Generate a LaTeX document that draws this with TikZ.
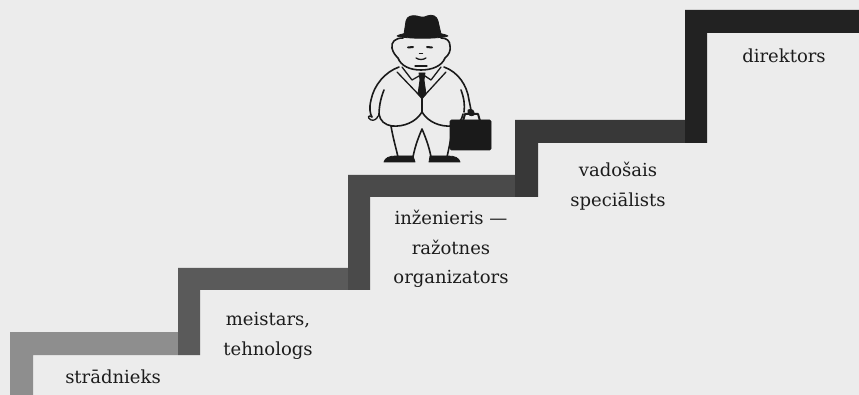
\documentclass[tikz,border=0pt]{standalone}
\usepackage{fontspec}
\setmainfont{DejaVu Serif}
\definecolor{paper}{HTML}{ECECEC}
\definecolor{ink}{HTML}{1C1C1C}
\definecolor{figink}{HTML}{1A1A1A}
\definecolor{stepA}{HTML}{8E8E8E}
\definecolor{stepB}{HTML}{5A5A5A}
\definecolor{stepC}{HTML}{4A4A4A}
\definecolor{stepD}{HTML}{383838}
\definecolor{stepE}{HTML}{222222}
\tikzset{
  label/.style={text=ink, align=center, inner sep=0pt,
    font=\fontsize{18}{29.5}\selectfont},
  stair/.style={draw=none},
  outline/.style={draw=figink, line width=1.6pt, line cap=round, line join=round},
  solid part/.style={fill=figink, draw=figink, line width=0.8pt, line join=round}
}
\begin{document}
\begin{tikzpicture}[x=1pt, y=-1pt]
  % paper
  \fill[paper] (0,0) rectangle (859,395);
  \useasboundingbox (0,0) rectangle (859,395);

  % staircase: one L-shaped piece per step, darker towards the top
  \fill[stair, stepA] (10,395) -- (10,332) -- (178,332) -- (178,355) -- (33,355) -- (33,395) -- cycle;
  \fill[stair, stepB] (178,355) -- (178,268) -- (348,268) -- (348,290) -- (200,290) -- (200,355) -- cycle;
  \fill[stair, stepC] (348,290) -- (348,175) -- (515,175) -- (515,197) -- (370,197) -- (370,290) -- cycle;
  \fill[stair, stepD] (515,197) -- (515,120) -- (685,120) -- (685,143) -- (538,143) -- (538,197) -- cycle;
  \fill[stair, stepE] (685,143) -- (685,10) -- (859,10) -- (859,33) -- (707,33) -- (707,143) -- cycle;

  % step labels
  \node[label] (worker)   at (113,377) {strādnieks};
  \node[label] (foreman)  at (268,336) {meistars,\\tehnologs};
  \node[label] (engineer) at (451,249) {inženieris —\\ražotnes\\organizators};
  \node[label] (senior)   at (618,186) {vadošais\\speciālists};
  \node[label] (director) at (784,56)  {direktors};

  % the man with the briefcase
  % hat
  \path[solid part] (404,34) -- (406,21) .. controls (407,16) and (412,15) .. (417,16)
      .. controls (420,17) and (424,18) .. (427,16) .. controls (432,14) and (437,16) .. (438,21)
      -- (441,34) -- cycle;
  \path[solid part] (397,36) .. controls (405,31) and (440,31) .. (448,36)
      .. controls (440,39) and (405,39) .. (397,36) -- cycle;
  % head
  \draw[outline] (403,38) .. controls (395,38) and (391,42) .. (392,48)
      .. controls (393,53) and (396,56) .. (398,58)
      .. controls (401,66) and (410,70) .. (421,70)
      .. controls (432,70) and (442,66) .. (445,58)
      .. controls (449,55) and (451,50) .. (450,46)
      .. controls (450,41) and (447,38) .. (441,38);
  % face
  \draw[figink, line width=2pt, line cap=round] (408,47.5) -- (413,47);
  \draw[figink, line width=2pt, line cap=round] (427,47) -- (432,47.5);
  \draw[figink, line width=1.4pt, line cap=round] (419.5,53.5) -- (422.5,53.5);
  \draw[outline, line width=1.3pt] (416,58) .. controls (419,60) and (423,60) .. (426,58);
  \draw[outline, line width=1.3pt] (415,66) -- (427,66);
  % collar and lapels
  \draw[outline, line width=1.3pt] (402,67) -- (412,80) -- (419,76);
  \draw[outline, line width=1.3pt] (441,67) -- (431,80) -- (425,76);
  \draw[outline, line width=1.3pt] (397,72) -- (420,96);
  \draw[outline, line width=1.3pt] (446,72) -- (424,96);
  % tie
  \path[solid part] (419,73) -- (425,73) -- (424,80) -- (426,94) -- (422,99) -- (418,94) -- (420,80) -- cycle;
  % body and left arm
  \draw[outline] (399,67) .. controls (385,72) and (374,85) .. (371,100)
      .. controls (369,108) and (370,114) .. (372,117);
  \draw[outline, line width=1.3pt] (372,117) .. controls (368,114) and (367,118) .. (371,120)
      .. controls (374,121) and (377,119) .. (378,116);
  \draw[outline] (384,90) .. controls (380,100) and (379,108) .. (379,116);
  % right side and arm
  \draw[outline] (444,67) .. controls (458,72) and (467,85) .. (469,100)
      .. controls (470,105) and (471,109) .. (471,112);
  \draw[outline] (461,90) .. controls (464,98) and (465,105) .. (464,112);
  % belly
  \draw[outline] (422,96) -- (422,112);
  \draw[outline] (422,112) .. controls (416,122) and (404,127) .. (392,126)
      .. controls (385,125) and (380,121) .. (379,114);
  \draw[outline] (422,112) .. controls (428,122) and (440,127) .. (452,126)
      .. controls (458,125) and (462,120) .. (463,114);
  % legs
  \draw[outline] (391,126) .. controls (393,138) and (396,148) .. (398,157);
  \draw[outline] (413,157) .. controls (415,146) and (419,136) .. (422,129)
      .. controls (425,136) and (429,146) .. (431,157);
  \draw[outline] (453,126) .. controls (451,138) and (449,148) .. (447,157);
  % shoes
  \path[solid part] (384,162) .. controls (385,158) and (389,156) .. (396,156) -- (413,156)
      -- (415,162) -- cycle;
  \path[solid part] (429,162) -- (430,156) -- (448,156) .. controls (455,156) and (459,158) .. (460,162) -- cycle;
  % briefcase with handle
  \draw[figink, line width=2pt, line join=round] (463,121) -- (465,114) -- (478,114) -- (480,121);
  \path[solid part, rounded corners=1.5pt] (450,120) rectangle (491,150);
  \path[solid part] (468,110) .. controls (472,108) and (475,111) .. (474,115)
      .. controls (471,117) and (467,115) .. (468,110) -- cycle;
\end{tikzpicture}
\end{document}
